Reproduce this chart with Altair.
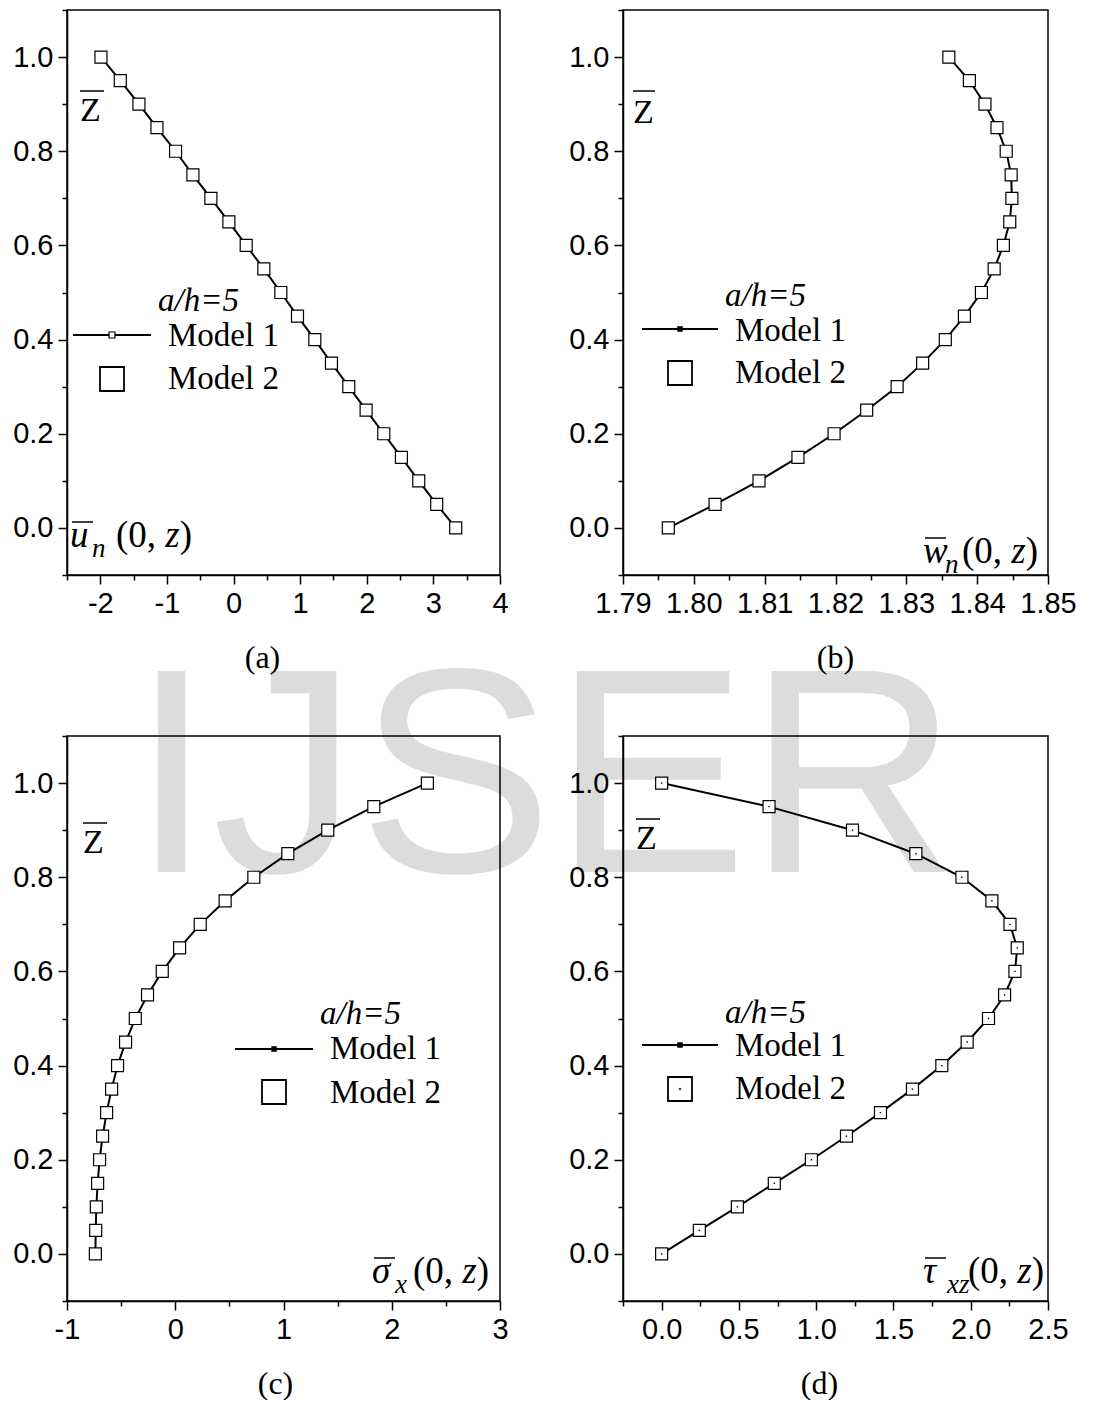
import altair as alt
import pandas as pd

# ---------------- data ----------------
z = [0.0, 0.05, 0.10, 0.15, 0.20, 0.25, 0.30, 0.35, 0.40, 0.45, 0.50,
     0.55, 0.60, 0.65, 0.70, 0.75, 0.80, 0.85, 0.90, 0.95, 1.0]
u_n = [3.335, 3.05, 2.78, 2.52, 2.255, 1.99, 1.73, 1.47, 1.22, 0.96, 0.71,
       0.455, 0.19, -0.07, -0.34, -0.61, -0.87, -1.15, -1.42, -1.70, -1.99]
w_n = [1.7964, 1.8030, 1.8092, 1.8147, 1.8198, 1.8244, 1.8287, 1.8323, 1.8355, 1.8382, 1.8406,
       1.8424, 1.8437, 1.8446, 1.8449, 1.8448, 1.8441, 1.8428, 1.8411, 1.8389, 1.8360]
sigma_x = [-0.738, -0.735, -0.729, -0.717, -0.699, -0.671, -0.634, -0.588, -0.533, -0.459, -0.369,
           -0.256, -0.120, 0.040, 0.231, 0.461, 0.726, 1.040, 1.409, 1.834, 2.329]
tau_xz = [0.0, 0.244, 0.490, 0.729, 0.969, 1.196, 1.416, 1.623, 1.813, 1.977, 2.115,
          2.219, 2.286, 2.301, 2.254, 2.137, 1.943, 1.645, 1.235, 0.695, 0.0]

y_ticks = [-0.1, 0.0, 0.1, 0.2, 0.3, 0.4, 0.5, 0.6, 0.7, 0.8, 0.9, 1.0, 1.1]
xa_ticks = [-2.5, -2.0, -1.5, -1.0, -0.5, 0.0, 0.5, 1.0, 1.5, 2.0, 2.5, 3.0, 3.5, 4.0]
xb_ticks = [1.79, 1.795, 1.80, 1.805, 1.81, 1.815, 1.82, 1.825, 1.83, 1.835, 1.84, 1.845, 1.85]
xc_ticks = [-1.0, -0.5, 0.0, 0.5, 1.0, 1.5, 2.0, 2.5, 3.0]
xd_ticks = [-0.25, 0.0, 0.25, 0.5, 0.75, 1.0, 1.25, 1.5, 1.75, 2.0, 2.25, 2.5]

legend_title = "a/h=5"
legend_labels = ["Model 1", "Model 2"]
panel_titles = ["(a)", "(b)", "(c)", "(d)"]
curve_symbols = ["u", "w", "\u03c3", "\u03c4"]
curve_subs = ["n", "n", "x", "xz"]
watermark = "IJSER"

SERIF = "Liberation Serif"
SANS = "Liberation Sans"
ONE = pd.DataFrame({"k": [0]})

Y_MAJOR = "abs(round(datum.value*10)) % 2 == 0"


def common_axis(major):
    return dict(grid=False,
                tickSize={"condition": {"test": major, "value": 9}, "value": 5},
                labelFontSize={"condition": {"test": major, "value": 29}, "value": 0},
                labelFont=SANS, labelColor="black", labelPadding=5,
                labelOverlap=False, labelFlush=False,
                domainColor="black", domainWidth=1.5, tickColor="black", tickWidth=1.5,
                zindex=1)


def y_axis():
    return alt.Axis(values=y_ticks, title=None,
                    labelExpr=Y_MAJOR + " ? format(datum.value, '.1f') : ''",
                    **common_axis(Y_MAJOR))


def x_axis(ticks, major, label, title, title_x):
    return alt.Axis(values=ticks, title=title,
                    labelExpr=major + " ? " + label + " : ''",
                    titleFont=SERIF, titleFontSize=32, titleFontWeight="normal", titleColor="black",
                    titlePadding=24, titleX=title_x, titleAlign="center",
                    **common_axis(major))


def T(text, x, y, size, style="normal", align="left", font=SERIF, color="black"):
    return alt.Chart(ONE).mark_text(text=text, font=font, fontSize=size, fontStyle=style,
                                    align=align, baseline="alphabetic", color=color).encode(
        x=alt.value(x), y=alt.value(y))


def R(x1, x2, y, width):
    return alt.Chart(ONE).mark_rule(color="black", strokeWidth=width).encode(
        x=alt.value(x1), x2=alt.value(x2), y=alt.value(y))


def P(x, y, size, fill, stroke_w=1.2):
    return alt.Chart(ONE).mark_square(size=size, fill=fill, stroke="black", strokeWidth=stroke_w,
                                      opacity=1).encode(x=alt.value(x), y=alt.value(y))


def panel(xs, domain, xaxis, width, zbar, curve, legend, small_open=False, dots=False, extra=None):
    df = pd.DataFrame({"x": xs, "z": z})
    base = alt.Chart(df).encode(
        x=alt.X("x:Q", scale=alt.Scale(domain=domain, nice=False, zero=False), axis=xaxis),
        y=alt.Y("z:Q", scale=alt.Scale(domain=[-0.1, 1.1], nice=False, zero=False), axis=y_axis()),
    )
    layers = []
    if extra is not None:
        layers.extend(extra)
    layers.append(base.mark_line(color="black", strokeWidth=2).encode(order=alt.Order("z:Q")))
    layers.append(base.mark_square(size=144, fill="white", stroke="black", strokeWidth=1.2, opacity=1))
    if dots:
        layers.append(base.mark_square(size=2, color="black", opacity=1))
    # z-bar label
    zx, zy, ox1, ox2, oy = zbar
    layers.append(T("Z", zx, zy, 34))
    layers.append(R(ox1, ox2, oy, 1.5))
    # curve label
    sym, sub, sx, subx, px, by = curve
    layers.append(T(sym, sx, by, 37, "italic"))
    layers.append(R(sx + 2, sx + 23, by - 25, 1.5))
    layers.append(T(sub, subx, by + 10, 27, "italic"))
    layers.append(T("(0, ", px, by, 37))
    layers.append(T("z", px + 49.3, by, 37, "italic"))
    layers.append(T(")", px + 49.3 + 14.4, by, 37))
    # legend
    ahx, ahy, lx1, lx2, ly, m1x, m1y, sqx, sqy, m2y = legend
    layers.append(T(legend_title, ahx, ahy, 33, "italic"))
    layers.append(R(lx1, lx2, ly, 2))
    if small_open:
        layers.append(P((lx1 + lx2) / 2, ly, 36, "white", 1.2))
    else:
        layers.append(P((lx1 + lx2) / 2, ly, 25, "black", 0.5))
    layers.append(T(legend_labels[0], m1x, m1y, 33))
    layers.append(P(sqx, sqy, 576, "white", 1.8))
    if dots:
        layers.append(P(sqx, sqy, 3, "black", 0.3))
    layers.append(T(legend_labels[1], m1x, m2y, 33))
    return alt.layer(*layers).properties(width=width, height=565)


INT_MAJOR = "abs(datum.value - round(datum.value)) < 0.001"

wm = [T(watermark, 64, 862, 292, font=SANS, color="#dcdcdc")]

pa = panel(u_n, [-2.5, 4.0],
           x_axis(xa_ticks, INT_MAJOR, "'' + round(datum.value)", panel_titles[0], 195),
           433,
           (13, 111, 13, 37, 81),
           (curve_symbols[0], curve_subs[0], 3, 25, 49, 537),
           (91, 301, 6, 84, 325, 101, 336, 45, 369, 379),
           small_open=True, extra=wm)

pb = panel(w_n, [1.79, 1.85],
           x_axis(xb_ticks, "abs(round(datum.value*200)) % 2 == 0", "format(datum.value, '.2f')",
                  panel_titles[1], 212),
           425,
           (10, 113, 10, 32, 81),
           (curve_symbols[1], curve_subs[1], 300, 322, 339, 553),
           (102, 296, 19, 95, 319, 112, 331, 57, 363, 373))

pc = panel(sigma_x, [-1.0, 3.0],
           x_axis(xc_ticks, INT_MAJOR, "'' + round(datum.value)", panel_titles[2], 208),
           433,
           (16, 117, 16, 40, 87),
           (curve_symbols[2], curve_subs[2], 305, 328, 346, 547),
           (253, 288, 168, 246, 313, 263, 323, 207, 356, 367))

pd_ = panel(tau_xz, [-0.25, 2.5],
            x_axis(xd_ticks, "abs(round(datum.value*4)) % 2 == 0", "format(datum.value, '.1f')",
                   panel_titles[3], 196),
            425,
            (13, 113, 13, 37, 83),
            (curve_symbols[3], curve_subs[3], 300, 324, 345, 547),
            (102, 287, 19, 95, 309, 112, 320, 57, 353, 363),
            dots=True)

chart = alt.concat(pa, pb, pc, pd_, columns=2, spacing={"row": 161, "column": 123},
                   bounds="flush").properties(
    padding={"left": 3, "top": 0, "right": 5, "bottom": 0}
).configure_view(stroke="black", strokeWidth=1.5)

chart.save("out.html", embed_options={"renderer": "svg", "actions": False})
